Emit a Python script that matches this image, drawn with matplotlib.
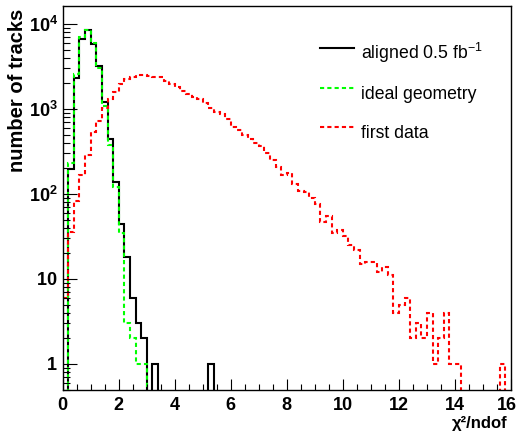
import numpy as np
import matplotlib
matplotlib.use('Agg')
import matplotlib.pyplot as plt
from matplotlib.ticker import LogLocator, FixedLocator, FixedFormatter, MultipleLocator, NullFormatter
from matplotlib.transforms import ScaledTranslation

plt.rcParams['font.family'] = ['Liberation Sans', 'DejaVu Sans']
plt.rcParams['mathtext.fontset'] = 'custom'
plt.rcParams['mathtext.rm'] = 'Liberation Sans'
plt.rcParams['mathtext.bf'] = 'Liberation Sans:bold'
plt.rcParams['mathtext.it'] = 'Liberation Sans:italic'

# chi2/ndof histograms, 80 bins of 0.2 from 0 to 16
bin_edges = np.linspace(0, 16, 81)

aligned = [
    0, 195, 2340, 6650, 8500, 5750, 3200, 1220, 445, 137,
    44, 18, 6, 3, 2, 0, 1, 0, 0, 0,
    0, 0, 0, 0, 0, 0, 1, 0, 0, 0,
    0, 0, 0, 0, 0, 0, 0, 0, 0, 0,
    0, 0, 0, 0, 0, 0, 0, 0, 0, 0,
    0, 0, 0, 0, 0, 0, 0, 0, 0, 0,
    0, 0, 0, 0, 0, 0, 0, 0, 0, 0,
    0, 0, 0, 0, 0, 0, 0, 0, 0, 0,
]

ideal = [
    0, 230, 2580, 7050, 8500, 6000, 3050, 1080, 377, 120,
    35, 3, 2, 1, 1, 0, 0, 0, 0, 0,
    0, 0, 0, 0, 0, 0, 0, 0, 0, 0,
    0, 0, 0, 0, 0, 0, 0, 0, 0, 0,
    0, 0, 0, 0, 0, 0, 0, 0, 0, 0,
    0, 0, 0, 0, 0, 0, 0, 0, 0, 0,
    0, 0, 0, 0, 0, 0, 0, 0, 0, 0,
    0, 0, 0, 0, 0, 0, 0, 0, 0, 0,
]

first_data = [
    6, 36, 83, 168, 290, 530, 730, 1040, 1300, 1600,
    1980, 2260, 2410, 2500, 2490, 2450, 2410, 2350, 2160, 1990,
    1800, 1640, 1520, 1390, 1320, 1190, 1040, 910, 880, 760,
    610, 566, 494, 440, 395, 367, 306, 251, 209, 167,
    175, 131, 109, 106, 89, 76, 47, 55, 35, 38,
    32, 25, 22, 15, 16, 16, 12, 14, 11, 4,
    5, 6, 2, 3, 2, 4, 1, 2, 4, 1,
    1, 0, 0, 0, 0, 0, 0, 0, 1, 0,
]

labels = ['aligned 0.5 fb$^{-1}$', 'ideal geometry', 'first data']

xtick_values = [0, 2, 4, 6, 8, 10, 12, 14, 16]
ytick_values = [1, 10, 100, 1000, 10000]
ytick_labels = [r'$\mathbf{1}$', r'$\mathbf{10}$', r'$\mathbf{10^{2}}$',
                r'$\mathbf{10^{3}}$', r'$\mathbf{10^{4}}$']

fig = plt.figure(figsize=(5.18, 4.43), dpi=100)
ax = fig.add_axes([0.121, 0.1196, 0.8655, 0.8669])

ax.stairs(aligned, bin_edges, color='black', lw=1.5, baseline=None, label=labels[0])
ax.stairs(ideal, bin_edges, color='#00ff00', lw=1.5, baseline=None,
          linestyle=(0, (2, 1.5)), label=labels[1])
ax.stairs(first_data, bin_edges, color='#ff0000', lw=1.5, baseline=None,
          linestyle=(0, (2, 1.5)), label=labels[2])

ax.set_yscale('log')
ax.set_xlim(0, 16)
ax.set_ylim(0.494, 1.63e4)

ax.xaxis.set_major_locator(FixedLocator(xtick_values))
ax.xaxis.set_major_formatter(FixedFormatter([str(v) for v in xtick_values]))
ax.xaxis.set_minor_locator(MultipleLocator(0.5))
ax.yaxis.set_major_locator(FixedLocator(ytick_values))
ax.yaxis.set_major_formatter(FixedFormatter(ytick_labels))
ax.yaxis.set_minor_locator(LogLocator(base=10, subs=np.arange(2, 10) * 1.0, numticks=20))
ax.yaxis.set_minor_formatter(NullFormatter())

ax.tick_params(axis='both', which='both', direction='in', top=False, right=False, width=0.8)
ax.tick_params(axis='x', which='major', length=8, pad=5, labelsize=13)
ax.tick_params(axis='x', which='minor', length=4.3)
ax.tick_params(axis='y', which='major', length=10, pad=3.5, labelsize=13)
ax.tick_params(axis='y', which='minor', length=5)
for lbl in ax.get_xticklabels():
    lbl.set_fontweight('bold')
# last x label sits at the frame edge, nudge it inside the canvas
last = ax.get_xticklabels()[-1]
last.set_transform(last.get_transform() + ScaledTranslation(-4 / 100, 0, fig.dpi_scale_trans))
for sp in ax.spines.values():
    sp.set_linewidth(1.0)

fig.text(18 / 518, 1 - 9 / 443, 'number of tracks', rotation=90, ha='center', va='top',
         fontsize=14.5, fontweight='bold')
fig.text(508 / 518, 1 - 431 / 443, 'χ²/ndof', ha='right', va='bottom',
         fontsize=12, fontweight='bold')

ax.legend(loc='upper left', bbox_to_anchor=(320 / 518, 1 - 41 / 443),
          bbox_transform=fig.transFigure, frameon=False, fontsize=12.7,
          handlelength=1.9, handletextpad=0.45, handleheight=1.6, labelspacing=0.95,
          borderpad=0, borderaxespad=0)

fig.savefig('out.png', dpi=100)
